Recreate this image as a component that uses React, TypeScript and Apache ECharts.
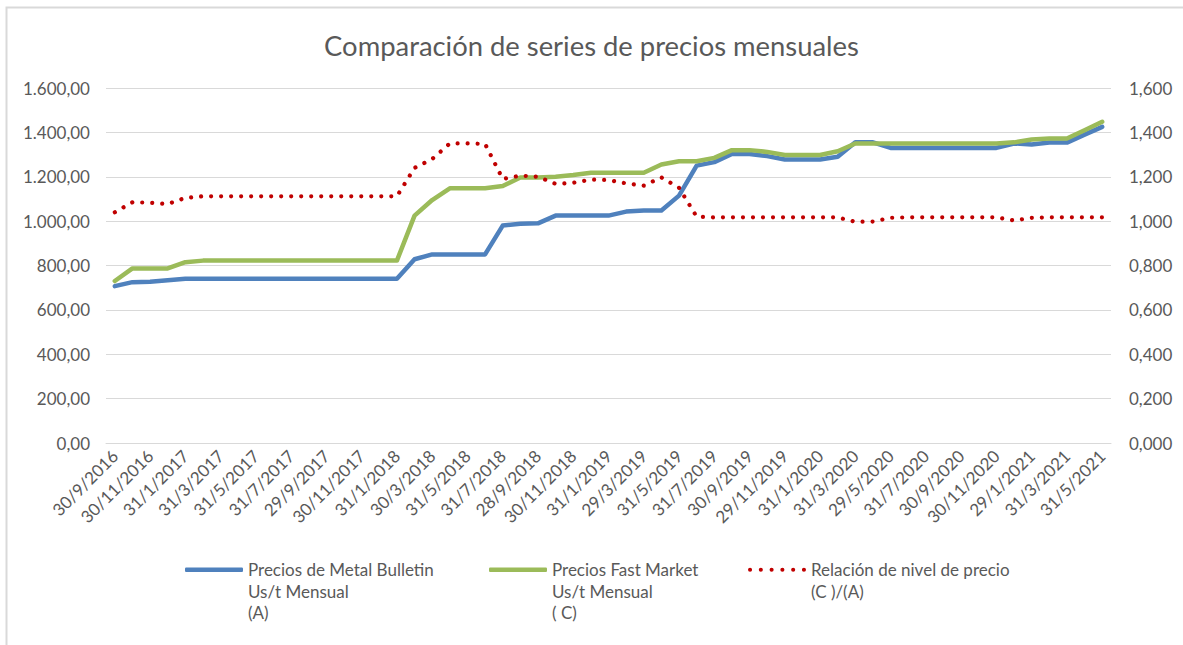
import React, { useEffect, useRef } from "react";
import * as echarts from "echarts";

const categories = [
  "30/9/2016","31/10/2016","30/11/2016","30/12/2016",
  "31/1/2017","28/2/2017","31/3/2017","28/4/2017","31/5/2017","30/6/2017","31/7/2017","31/8/2017","29/9/2017","31/10/2017","30/11/2017","29/12/2017",
  "31/1/2018","28/2/2018","30/3/2018","30/4/2018","31/5/2018","29/6/2018","31/7/2018","31/8/2018","28/9/2018","31/10/2018","30/11/2018","31/12/2018",
  "31/1/2019","28/2/2019","29/3/2019","30/4/2019","31/5/2019","28/6/2019","31/7/2019","30/8/2019","30/9/2019","31/10/2019","29/11/2019","31/12/2019",
  "31/1/2020","28/2/2020","31/3/2020","30/4/2020","29/5/2020","30/6/2020","31/7/2020","31/8/2020","30/9/2020","30/10/2020","30/11/2020","31/12/2020",
  "29/1/2021","26/2/2021","31/3/2021","30/4/2021","31/5/2021"
];

const metalBulletin = [
  707, 725, 727, 733,
  740, 740, 740, 740, 740, 740, 740, 740, 740, 740, 740, 740,
  740, 828, 850, 850, 850, 850, 980, 988, 990, 1025, 1025, 1025,
  1025, 1043, 1048, 1048, 1115, 1250, 1266, 1303, 1303, 1293, 1278, 1278,
  1278, 1290, 1355, 1355, 1330, 1330, 1330, 1330, 1330, 1330, 1330, 1350,
  1345, 1354, 1354, 1390, 1425
];

const fastMarket = [
  730, 787, 787, 787,
  815, 822, 822, 822, 822, 822, 822, 822, 822, 822, 822, 822,
  822, 1025, 1095, 1148, 1148, 1148, 1158, 1197, 1197, 1200, 1208, 1218,
  1218, 1218, 1218, 1255, 1270, 1270, 1285, 1320, 1320, 1312, 1298, 1298,
  1298, 1315, 1350, 1350, 1350, 1350, 1350, 1350, 1350, 1350, 1350, 1355,
  1368, 1372, 1372, 1410, 1448
];

const ratio = [
  1.040, 1.085, 1.083, 1.077,
  1.105, 1.112, 1.112, 1.112, 1.112, 1.112, 1.112, 1.112, 1.112, 1.112, 1.112, 1.112,
  1.112, 1.240, 1.280, 1.350, 1.350, 1.348, 1.190, 1.205, 1.200, 1.168, 1.173, 1.187,
  1.185, 1.170, 1.160, 1.197, 1.150, 1.020, 1.017, 1.017, 1.017, 1.017, 1.017, 1.017,
  1.017, 1.017, 0.997, 0.998, 1.015, 1.017, 1.017, 1.017, 1.017, 1.017, 1.017, 1.003,
  1.015, 1.017, 1.017, 1.017, 1.017
];

const seriesNames = [
  "Precios de Metal Bulletin\nUs/t Mensual\n(A)",
  "Precios Fast Market\nUs/t Mensual\n( C)",
  "Relación de nivel de precio\n(C )/(A)"
];

const titleText = "Comparación de series de precios mensuales";
const leftAxisMax = 1600;
const rightAxisMax = 1.6;
const tickCount = 8;

const FONT = "Lato";
const TEXT = "#595959";
const GRID = "#D9D9D9";

const dotsIcon =
  "path://" +
  [0, 10.5, 21, 31.5, 42, 52.5]
    .map((x) => `M${x},2 a2,2 0 1,0 4,0 a2,2 0 1,0 -4,0 Z`)
    .join(" ");

function fmtLeft(v: number) {
  const s = v.toFixed(2);
  const [i, d] = s.split(".");
  const withSep = i.replace(/\B(?=(\d{3})+(?!\d))/g, ".");
  return withSep + "," + d;
}
function fmtRight(v: number) {
  return v.toFixed(3).replace(".", ",");
}

export default function App() {
  const ref = useRef<HTMLDivElement>(null);
  useEffect(() => {
    if (!ref.current) return;
    const chart = echarts.init(ref.current, undefined, { renderer: "svg" });
    const legendText = {
      fontFamily: FONT,
      fontSize: 17,
      color: TEXT,
      lineHeight: 21.5,
    };
    // two empty lines before the name so that its first line sits beside the icon
    const fmt = (name: string) => "\n\n" + name + (name.split("\n").length === 2 ? "\n" : "");
    const legendTop = 570 - 54;
    chart.setOption({
      animation: false,
      backgroundColor: "#ffffff",
      title: {
        text: titleText,
        left: "center",
        top: 24,
        textStyle: { fontFamily: FONT, fontSize: 27.4, fontWeight: "normal", color: TEXT, lineHeight: 32 },
      },
      graphic: [
        {
          type: "rect",
          shape: { x: 6.5, y: 7.5, width: 1300, height: 800 },
          style: { fill: "none", stroke: GRID, lineWidth: 2 },
          silent: true,
        },
      ],
      grid: { left: 106, right: 72, top: 88, bottom: 202, containLabel: false },
      legend: [
        {
          data: [{ name: seriesNames[0], icon: "roundRect" }], left: 185, top: legendTop, padding: 0,
          itemWidth: 58, itemHeight: 4.5, textStyle: legendText, formatter: fmt,
        },
        {
          data: [{ name: seriesNames[1], icon: "roundRect" }], left: 489, top: legendTop, padding: 0,
          itemWidth: 58, itemHeight: 4.5, textStyle: legendText, formatter: fmt,
        },
        {
          data: [{ name: seriesNames[2], icon: dotsIcon }], left: 748, top: legendTop, padding: 0,
          itemWidth: 58, itemHeight: 4.5, textStyle: legendText, formatter: fmt,
        },
      ],
      xAxis: {
        type: "category",
        data: categories,
        boundaryGap: true,
        axisLine: { show: true, lineStyle: { color: GRID, width: 1 } },
        axisTick: { show: false },
        axisLabel: {
          interval: 1,
          rotate: 45,
          margin: 10,
          fontFamily: FONT,
          fontSize: 17,
          color: TEXT,
        },
      },
      yAxis: [
        {
          type: "value",
          min: 0,
          max: leftAxisMax,
          interval: leftAxisMax / tickCount,
          axisLine: { show: false },
          axisTick: { show: false },
          splitLine: { lineStyle: { color: GRID, width: 1 } },
          axisLabel: { formatter: fmtLeft, fontFamily: FONT, fontSize: 17, color: TEXT, margin: 16 },
        },
        {
          type: "value",
          min: 0,
          max: rightAxisMax,
          interval: rightAxisMax / tickCount,
          axisLine: { show: false },
          axisTick: { show: false },
          splitLine: { show: false },
          axisLabel: { formatter: fmtRight, fontFamily: FONT, fontSize: 17, color: TEXT, margin: 18 },
        },
      ],
      series: [
        {
          name: seriesNames[0],
          type: "line",
          data: metalBulletin,
          yAxisIndex: 0,
          symbol: "none",
          color: "#4F81BD",
          lineStyle: { color: "#4F81BD", width: 4.5, cap: "round", join: "round" },
        },
        {
          name: seriesNames[1],
          type: "line",
          data: fastMarket,
          yAxisIndex: 0,
          symbol: "none",
          color: "#9BBB59",
          lineStyle: { color: "#9BBB59", width: 4.5, cap: "round", join: "round" },
        },
        {
          name: seriesNames[2],
          type: "line",
          data: ratio,
          yAxisIndex: 1,
          symbol: "none",
          color: "#C00000",
          lineStyle: { color: "#C00000", width: 4.2, type: [0.01, 10], cap: "round", join: "round" },
        },
      ],
    });
    return () => chart.dispose();
  }, []);
  return (
    <div
      ref={ref}
      style={{ position: "absolute", left: 0, top: 0, width: 1183, height: 645 }}
    />
  );
}
